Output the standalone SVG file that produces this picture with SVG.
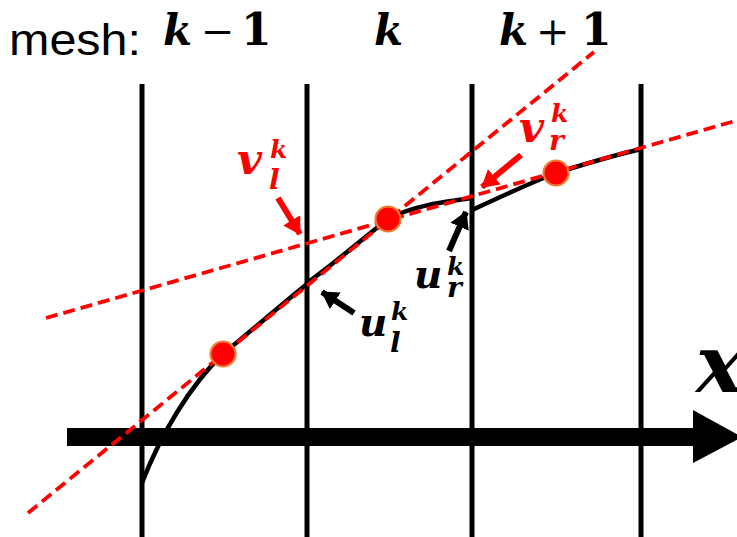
<svg xmlns="http://www.w3.org/2000/svg" width="737" height="537" viewBox="0 0 737 537">
<style>
.grid{stroke:#000;stroke-width:5;fill:none}
.curve{stroke:#000;stroke-width:4.5;fill:none;stroke-linecap:butt}
.tan{stroke:#FF0000;stroke-width:3.8;fill:none;stroke-dasharray:12 6}
.dot{fill:#FF0000;stroke:#ED7D31;stroke-width:2.2}
.m{font-family:"DejaVu Serif","Liberation Serif",serif;font-weight:bold;font-style:italic}
.op{font-family:"DejaVu Serif","Liberation Serif",serif;font-weight:normal;font-style:normal}
.num{font-family:"DejaVu Serif","Liberation Serif",serif;font-weight:bold;font-style:normal}
.red{fill:#FF0000}
.blk{fill:#000}
.arr-r{stroke:#FF0000;stroke-width:6;fill:none}
.arr-k{stroke:#000;stroke-width:6;fill:none}
</style>
<defs>
<marker id="hr" markerUnits="userSpaceOnUse" markerWidth="20" markerHeight="22" refX="16" refY="10" orient="auto"><path d="M0,0 L17,10 L0,20 Z" fill="#FF0000"/></marker>
<marker id="hk" markerUnits="userSpaceOnUse" markerWidth="20" markerHeight="22" refX="16" refY="10" orient="auto"><path d="M0,0 L17,10 L0,20 Z" fill="#000"/></marker>
</defs>
<rect width="737" height="537" fill="#fff"/>
<g id="mesh-lines">
<line class="grid" x1="142" y1="84" x2="142" y2="537"/>
<line class="grid" x1="307" y1="84" x2="307" y2="537"/>
<line class="grid" x1="472" y1="84" x2="472" y2="537"/>
<line class="grid" x1="641" y1="84" x2="641" y2="537"/>
</g>
<g id="x-axis">
<rect x="67" y="428" width="628" height="18" fill="#000"/>
<polygon points="693,410 742,437 693,463" fill="#000"/>
<text class="m" x="696" y="392" font-size="80">x</text>
</g>
<g id="solution-curve">
<path class="curve" d="M142,483 C160,436 190,385 223,354 C252,330 280,306 307,284"/>
<path class="curve" d="M307,283 C340,259 366,236 388,219 C412,206 442,202 472,198"/>
<path class="curve" d="M472,210 C500,197 530,183 556,173 C585,164 615,155 641,149"/>
</g>
<g id="tangent-lines">
<line class="tan" x1="28" y1="513" x2="594" y2="52"/>
<line class="tan" x1="46" y1="318" x2="735" y2="121"/>
</g>
<g id="points">
<circle class="dot" cx="223" cy="354" r="12.5"/>
<circle class="dot" cx="388" cy="219" r="12.5"/>
<circle class="dot" cx="556" cy="173" r="12.5"/>
</g>
<g id="mesh-label">
<text x="9" y="55" font-family="Liberation Sans, Arial, sans-serif" font-size="44" textLength="132" lengthAdjust="spacingAndGlyphs">mesh:</text>
</g>
<g id="label-km1">
<text class="m" x="163" y="45" font-size="42">k</text>
<text class="op" x="201" y="45" font-size="40">−</text>
<text class="num" x="241" y="45" font-size="44">1</text>
</g>
<g id="label-k">
<text class="m" x="374" y="45" font-size="42">k</text>
</g>
<g id="label-kp1">
<text class="m" x="499" y="45" font-size="42">k</text>
<text class="op" x="536" y="45" font-size="40">+</text>
<text class="num" x="581" y="45" font-size="44">1</text>
</g>
<g id="label-vl">
<text class="m red" x="237" y="174" font-size="43">v</text>
<text class="m red" x="270" y="158" font-size="25">k</text>
<text class="m red" x="269" y="189" font-size="28">l</text>
</g>
<g id="label-vr">
<text class="m red" x="519" y="142" font-size="43">v</text>
<text class="m red" x="551" y="122" font-size="25">k</text>
<text class="m red" x="549" y="150" font-size="28">r</text>
</g>
<g id="label-ul">
<text class="m blk" x="359" y="336" font-size="39">u</text>
<text class="m blk" x="391" y="320" font-size="25">k</text>
<text class="m blk" x="390" y="352" font-size="28">l</text>
</g>
<g id="label-ur">
<text class="m blk" x="414" y="288" font-size="39">u</text>
<text class="m blk" x="447" y="275" font-size="25">k</text>
<text class="m blk" x="447" y="297" font-size="28">r</text>
</g>
<g id="connectors">
<line class="arr-r" x1="278" y1="198" x2="300" y2="234" marker-end="url(#hr)"/>
<line class="arr-r" x1="521" y1="155" x2="482" y2="187" marker-end="url(#hr)"/>
<line class="arr-k" x1="354" y1="313" x2="322" y2="292" marker-end="url(#hk)"/>
<line class="arr-k" x1="449" y1="251" x2="466" y2="212" marker-end="url(#hk)"/>
</g>
</svg>
